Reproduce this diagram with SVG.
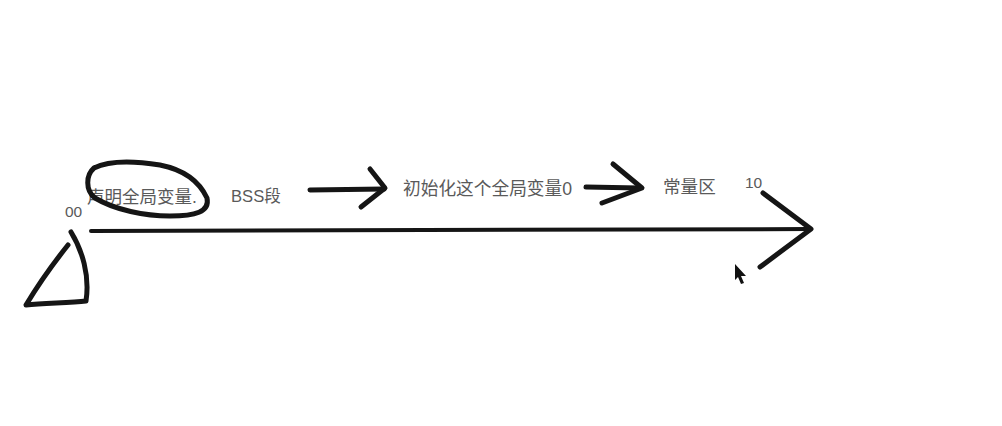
<svg xmlns="http://www.w3.org/2000/svg" width="1002" height="426" viewBox="0 0 1002 426">
<style>
.ink{fill:none;stroke:#151515;stroke-linecap:round;stroke-linejoin:round}
.t{font-family:"Liberation Sans","Noto Sans CJK SC",sans-serif;fill:#5a5a5a}
</style>
<rect width="1002" height="426" fill="#fff"/>
<g id="connectors">
<path class="ink" stroke-width="4" d="M91 231 L810 229"/>
<path class="ink" stroke-width="5" d="M763 193 L811 229 L760 267"/>
<path class="ink" stroke-width="5" d="M310 190 L384 189"/>
<path class="ink" stroke-width="5" d="M370 169 L385 188 L361 207"/>
<path class="ink" stroke-width="5" d="M586 187 L639 188"/>
<path class="ink" stroke-width="5" d="M613 164 L642 188 L602 203"/>
</g>
<g id="origin">
<text class="t" x="65" y="217" font-size="15.5">00</text>
<path class="ink" stroke-width="5" d="M71 232 C82 250 90 275 86 301 C70 303 45 303 26 305 C38 285 52 265 68 245"/>
</g>
<g id="declare">
<text class="t" x="87" y="203" font-size="17.5">声明全局变量.</text>
<path class="ink" stroke-width="5" d="M94 168 C110 160 135 161 160 165 C185 170 200 183 207 198 C210 212 195 216 170 216 C145 216 115 210 95 198 C85 190 86 175 94 168"/>
</g>
<g id="bss">
<text class="t" x="231" y="202" font-size="16.6">BSS段</text>
</g>
<g id="init">
<text class="t" x="403" y="195" font-size="17.7">初始化这个全局变量0</text>
</g>
<g id="const">
<text class="t" x="663" y="193" font-size="17.6">常量区</text>
</g>
<g id="end">
<text class="t" x="745" y="188" font-size="15.5">10</text>
</g>
<g id="cursor">
<path d="M735 264 L735 280 L738 277 L741 284 L744 283 L741 276 L746 276 Z" fill="#111"/>
</g>
</svg>
